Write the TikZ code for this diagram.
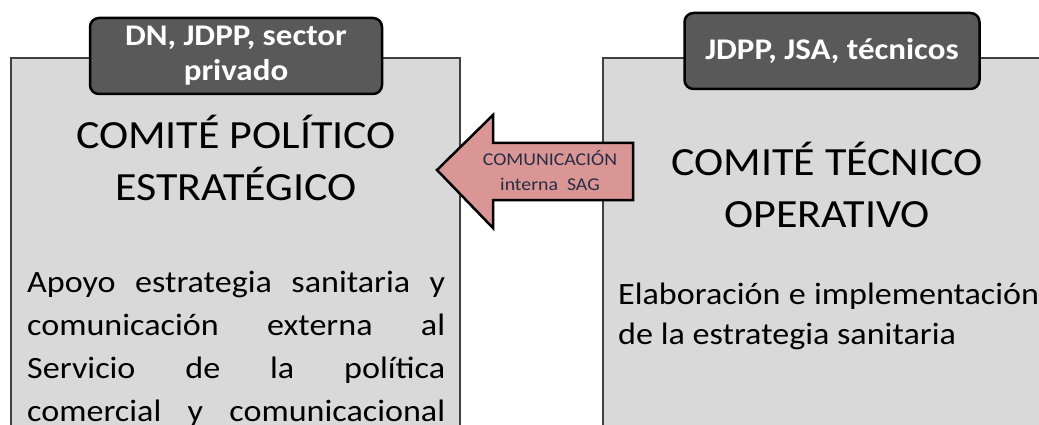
\documentclass[tikz,border=0pt]{standalone}
\usepackage{fontspec}
\setmainfont{Carlito}[FakeStretch=1.1]
\usepackage{tikz}
\usetikzlibrary{positioning}

\definecolor{boxgray}{RGB}{217,217,217}
\definecolor{boxline}{RGB}{64,64,64}
\definecolor{tabgray}{RGB}{89,89,89}
\definecolor{arrowpink}{RGB}{217,150,148}
\definecolor{arrowtext}{RGB}{40,45,70}

\tikzset{
  comite/.style={draw=boxline,fill=boxgray,line width=2.5pt},
  tabbox/.style={draw=black,fill=tabgray,line width=2.5pt,rounded corners=9pt,
    text=white,font=\bfseries\fontsize{30}{35}\selectfont,align=center,
    inner sep=0pt,minimum height=76pt},
  titulo/.style={font=\fontsize{40}{52}\selectfont,align=center,inner sep=0pt},
  cuerpo/.style={font=\fontsize{31}{43}\selectfont,align=justify,inner sep=0pt,anchor=north west},
  flecha/.style={draw=black,fill=arrowpink,line width=2.5pt,line join=miter},
}

\begin{document}
\begin{tikzpicture}[x=1pt,y=-1pt]
  \useasboundingbox (0,0) rectangle (1039,425);
  \clip (0,0) rectangle (1039,425);

  \draw[comite] (11,58) rectangle (460,450);
  \draw[comite] (603,58) rectangle (1060,450);

  \draw (236,56) node[tabbox,minimum width=292pt] (grupoPE) {DN, JDPP, sector\\privado};
  \draw (832,51) node[tabbox,minimum width=295pt] (grupoTO) {JDPP, JSA, técnicos};

  \draw (236,158) node[titulo] (cpe) {COMITÉ POLÍTICO\\ESTRATÉGICO};
  \draw (827,185) node[titulo] (cto) {COMITÉ TÉCNICO\\OPERATIVO};

  \draw (27,271) node[cuerpo,text width=418pt] (tareaPE) {Apoyo estrategia sanitaria y\linebreak
    comunicación externa al\linebreak Servicio de la política\linebreak
    \makebox[\linewidth][s]{comercial y comunicacional}};
  \draw (618,283) node[cuerpo,font=\fontsize{31}{40}\selectfont,text width=421pt] (tareaTO) {Elaboración e implementación\linebreak
    de la estrategia sanitaria};

  \coordinate (punta) at (437,170);
  \draw[flecha] (punta) -- (493,115) -- (493,143) -- (633,143) -- (633,200)
    -- (493,200) -- (493,228) -- cycle;
  \draw (550,171) node[font=\fontsize{18}{25}\selectfont,text=arrowtext,align=center,inner sep=0pt] (comunic) {COMUNICACIÓN\\interna~ SAG};
\end{tikzpicture}
\end{document}
